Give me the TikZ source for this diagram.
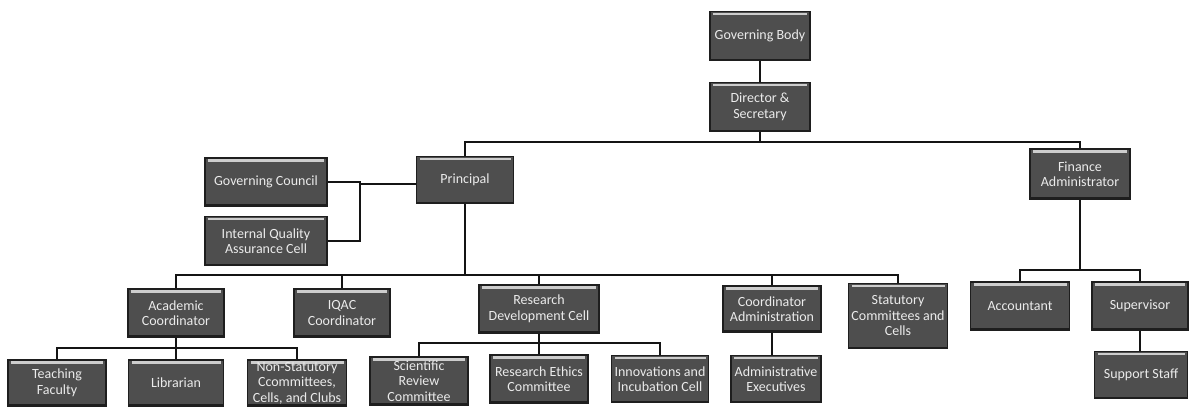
\documentclass[tikz,border=0pt]{standalone}
\usepackage{fontspec}
\setmainfont{Carlito}
\definecolor{boxfill}{RGB}{78,78,78}
\definecolor{boxedge}{RGB}{30,30,30}
\definecolor{bevel}{RGB}{205,205,205}
\definecolor{txt}{RGB}{235,235,235}
\definecolor{linec}{RGB}{20,20,20}
\begin{document}
\begin{tikzpicture}[x=1pt,y=-1pt,
  orgbox/.style={rectangle, fill=boxfill, draw=boxedge, line width=1.2pt,
    text=txt, align=center, inner sep=0pt,
    font=\fontsize{14}{15.5}\selectfont,
    path picture={
      \fill[bevel] ([xshift=3pt,yshift=-1pt]path picture bounding box.north west) rectangle ([xshift=-3pt,yshift=-3.5pt]path picture bounding box.north east);
      \fill[boxedge] ([yshift=2pt]path picture bounding box.south west) rectangle (path picture bounding box.south east);
    }},
  conn/.style={draw=linec, line width=1.6pt}]
\useasboundingbox[fill=white] (0,0) rectangle (1189,407);

% nodes
\node[orgbox, minimum width=100pt, minimum height=49pt] (gb) at (760,36) {Governing Body};
\node[orgbox, minimum width=100pt, minimum height=49pt] (ds) at (760,107) {Director \&\\Secretary};
\node[orgbox, minimum width=97pt, minimum height=47pt] (pr) at (465,180) {Principal};
\node[orgbox, minimum width=122pt, minimum height=48pt] (gc) at (266,182) {Governing Council};
\node[orgbox, minimum width=122pt, minimum height=49pt] (iq) at (266,241) {Internal Quality\\Assurance Cell};
\node[orgbox, minimum width=100pt, minimum height=50pt] (fa) at (1080,174) {Finance\\Administrator};

\node[orgbox, minimum width=96pt, minimum height=48pt] (ac) at (176,313) {Academic\\Coordinator};
\node[orgbox, minimum width=96pt, minimum height=48pt] (iqc) at (342,313) {IQAC\\Coordinator};
\node[orgbox, minimum width=120pt, minimum height=48pt] (rdc) at (539,309) {Research\\Development Cell};
\node[orgbox, minimum width=98pt, minimum height=46pt] (ca) at (772,309) {Coordinator\\Administration};
\node[orgbox, minimum width=99pt, minimum height=65pt] (sc) at (898,316) {Statutory\\Committees and\\Cells};
\node[orgbox, minimum width=99pt, minimum height=48pt] (acc) at (1020,306) {Accountant};
\node[orgbox, minimum width=96pt, minimum height=48pt] (sup) at (1140,306) {Supervisor};
\node[orgbox, minimum width=93pt, minimum height=47pt] (ss) at (1141,375) {Support Staff};

\node[orgbox, minimum width=98pt, minimum height=46pt] (tf) at (57,383) {Teaching\\Faculty};
\node[orgbox, minimum width=95pt, minimum height=46pt] (lib) at (176,383) {Librarian};
\node[orgbox, minimum width=99pt, minimum height=46pt] (ns) at (297,383) {Non-Statutory\\Ccommittees,\\Cells, and Clubs};
\node[orgbox, minimum width=98pt, minimum height=48pt] (src) at (419,381) {Scientific\\Review\\Committee};
\node[orgbox, minimum width=98pt, minimum height=48pt] (rec) at (539,379) {Research Ethics\\Committee};
\node[orgbox, minimum width=97pt, minimum height=47pt] (iic) at (660,379) {Innovations and\\Incubation Cell};
\node[orgbox, minimum width=90pt, minimum height=47pt] (ae) at (776,379) {Administrative\\Executives};

% junctions
\coordinate (j1) at (760,142);
\coordinate (br) at (360,184);
\coordinate (j2) at (465,275);
\coordinate (j3) at (176,348);
\coordinate (j4) at (539,343);
\coordinate (j5) at (1080,270);

% connectors
\draw[conn] (gb) -- (ds);
\draw[conn] (ds) -- (j1);
\draw[conn] (pr.north) |- (j1) -| (fa.north);
\draw[conn] (gc.east) -| (br);
\draw[conn] (iq.east) -| (br);
\draw[conn] (br) -- (pr.west |- br);
\draw[conn] (pr.south) -- (j2);
\draw[conn] (ac.north) |- (j2) -| (sc.north);
\draw[conn] (iqc.north) -- (iqc.north |- j2);
\draw[conn] (rdc.north) -- (rdc.north |- j2);
\draw[conn] (ca.north) -- (ca.north |- j2);
\draw[conn] (ac.south) -- (j3);
\draw[conn] (tf.north) |- (j3) -| (ns.north);
\draw[conn] (lib.north) -- (j3);
\draw[conn] (rdc.south) -- (j4);
\draw[conn] (src.north) |- (j4) -| (iic.north);
\draw[conn] (rec.north) -- (j4);
\draw[conn] (ca.south) -- (ca.south |- ae.north);
\draw[conn] (fa.south) -- (j5);
\draw[conn] (acc.north) |- (j5) -| (sup.north);
\draw[conn] (sup.south) -- (sup.south |- ss.north);
\end{tikzpicture}
\end{document}
